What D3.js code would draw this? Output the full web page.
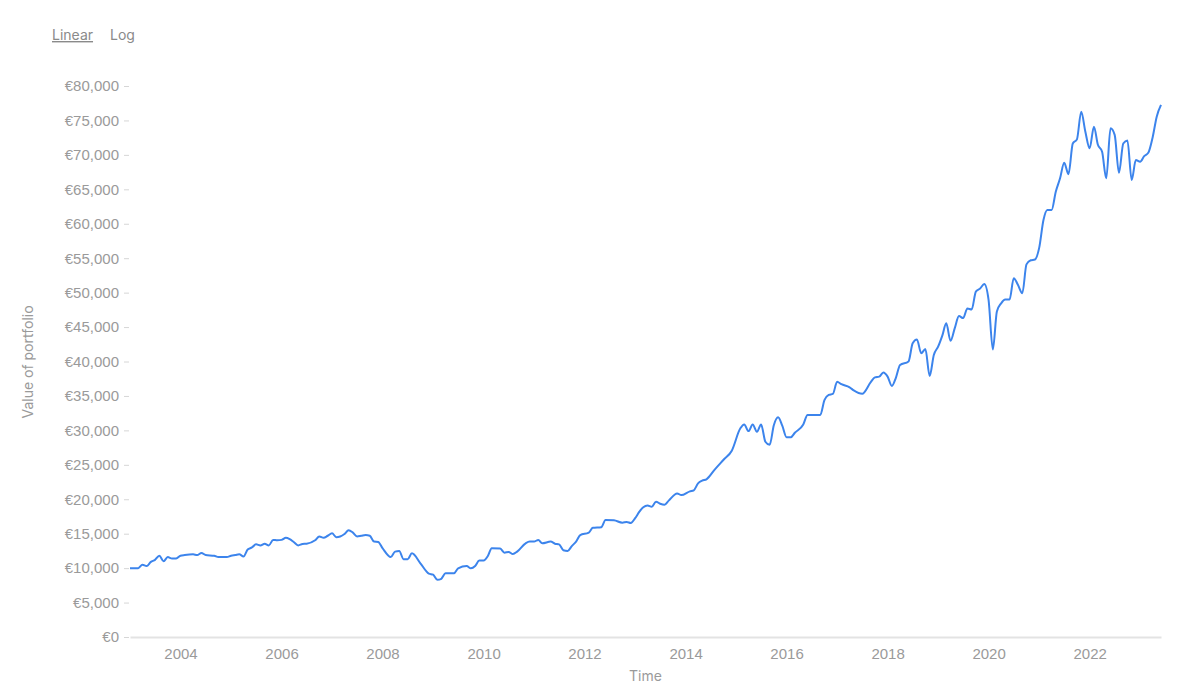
<!DOCTYPE html>
<html>
<head>
	<title>Portfolio</title>
	<meta charset='utf-8'>
	<style>
		body { margin: 0; background: #fff; }
		svg { font-family: Inter, 'Noto Sans', sans-serif; }
		.axis text { fill: #9a9a9a; font-size: 15px; }
		.axis__y .tick line { stroke: #d6d6d6; }
		.axis__y path.domain { stroke-width: 0; }
		.axis__x path.domain { stroke: #e3e3e3; stroke-width: 2px; }
		.axis__x .tick line { stroke-width: 0; }
		.label { fill: #9a9a9a; font-size: 14px; }
		.scale-btn { fill: #8a8a8a; font-size: 14px; }
		.line { fill: none; stroke: #3c84ec; stroke-width: 2px; }
	</style>
</head>
<body>
<div id="chart"></div>
<script src='https://d3js.org/d3.v7.min.js'></script>
<script>
	'use strict';

	// месяцы и значения портфеля
	const months = [
		'2003-01','2003-03','2003-04','2003-05','2003-06','2003-07','2003-08','2003-09','2003-10','2003-11','2003-12',
		'2004-01','2004-02','2004-04','2004-05','2004-06','2004-07','2004-09','2004-10','2004-12',
		'2005-01','2005-02','2005-03','2005-04','2005-05','2005-06','2005-07','2005-08','2005-09','2005-10','2005-11','2005-12',
		'2006-01','2006-02','2006-03','2006-04','2006-05','2006-06','2006-07','2006-09','2006-10','2006-11','2006-12',
		'2007-01','2007-02','2007-03','2007-04','2007-05','2007-06','2007-07','2007-08','2007-09','2007-10','2007-11','2007-12',
		'2008-01','2008-03','2008-04','2008-05','2008-06','2008-07','2008-08','2008-10','2008-12',
		'2009-01','2009-02','2009-03','2009-04','2009-05','2009-06','2009-07','2009-09','2009-10','2009-11','2009-12',
		'2010-01','2010-02','2010-03','2010-05','2010-06','2010-07','2010-08','2010-09','2010-11','2010-12',
		'2011-01','2011-02','2011-03','2011-05','2011-06','2011-07','2011-08','2011-09','2011-10','2011-11','2011-12',
		'2012-02','2012-03','2012-05','2012-06','2012-08','2012-10','2012-11','2012-12',
		'2013-01','2013-02','2013-03','2013-04','2013-05','2013-06','2013-07','2013-08','2013-09','2013-11','2013-12',
		'2014-02','2014-03','2014-04','2014-05','2014-06','2014-08','2014-10','2014-12',
		'2015-02','2015-03','2015-04','2015-05','2015-06','2015-07','2015-08','2015-09','2015-10','2015-11','2015-12',
		'2016-01','2016-02','2016-03','2016-05','2016-06','2016-08','2016-09','2016-10','2016-11','2016-12',
		'2017-01','2017-02','2017-04','2017-05','2017-07','2017-09','2017-10','2017-11','2017-12',
		'2018-01','2018-02','2018-03','2018-04','2018-06','2018-07','2018-08','2018-09','2018-10','2018-11','2018-12',
		'2019-01','2019-02','2019-03','2019-04','2019-05','2019-06','2019-07','2019-08','2019-09','2019-10','2019-11','2019-12',
		'2020-01','2020-02','2020-03','2020-04','2020-05','2020-06','2020-07','2020-08','2020-09','2020-10','2020-11','2020-12',
		'2021-01','2021-02','2021-03','2021-04','2021-05','2021-06','2021-07','2021-08','2021-09','2021-10','2021-11','2021-12',
		'2022-01','2022-02','2022-03','2022-04','2022-05','2022-06','2022-07','2022-08','2022-09','2022-10','2022-11','2022-12',
		'2023-01','2023-02','2023-03','2023-04','2023-05','2023-06'
	];
	const values = [
		10000,10000,10500,10300,10900,11200,11800,11000,11600,11400,11400,
		11800,11900,12000,11900,12200,11900,11800,11600,11600,
		11800,11900,12000,11700,12700,13000,13450,13300,13550,13300,14100,14050,
		14100,14400,14200,13750,13300,13500,13550,14050,14600,14400,14700,
		15050,14500,14600,14950,15500,15150,14600,14700,14800,14700,13850,13800,
		12900,11600,12400,12500,11300,11300,12150,10700,9200,
		9050,8300,8450,9250,9250,9250,9970,10300,9970,10300,11100,
		11100,11750,12900,12850,12250,12350,12050,12400,13600,13850,
		13850,14100,13600,13850,13550,13450,12600,12500,13200,13850,14800,
		15150,15850,15950,17000,16950,16600,16700,16550,
		17250,18200,18850,19100,18900,19650,19350,19200,19800,20850,20600,
		21150,21300,22300,22700,22900,24350,25700,27050,
		30300,30850,29900,30850,29800,30850,28350,27900,30750,31900,30700,
		29000,29000,29650,30850,32250,32250,32250,34400,35150,35300,
		37050,36700,36250,35800,35300,37000,37700,37800,38400,
		37800,36450,37600,39500,40000,42650,43200,41200,41800,37900,40950,
		42150,43800,45550,43000,44800,46600,46300,47700,47550,50150,50600,51250,
		48950,41750,47250,48450,49000,49000,52100,51100,49900,54100,54700,54800,
		56500,60550,62000,62000,64650,66600,68850,67200,71650,72250,76250,73350,
		70950,74100,71500,70450,66600,73850,72900,67400,71650,72100,66350,69250,
		69000,69850,70300,72500,75550,77250
	];
	const yTicks = [0, 5000, 10000, 15000, 20000, 25000, 30000, 35000, 40000, 45000, 50000, 55000, 60000, 65000, 70000, 75000, 80000];
	const xTickYears = [2004, 2006, 2008, 2010, 2012, 2014, 2016, 2018, 2020, 2022];
	const scaleOptions = ['Linear', 'Log'];

	const totalWidth = 1200;
	const totalHeight = 686;
	const margin = {top: 86, right: 39, bottom: 49, left: 130};
	const width = totalWidth - margin.left - margin.right;
	const height = totalHeight - margin.top - margin.bottom;

	const parseMonth = d3.timeParse('%Y-%m');
	const data = months.map((m, i) => ({date: parseMonth(m), value: values[i]}));

	const xScale = d3.scaleTime()
		.domain(d3.extent(data, d => d.date))
		.range([0, width]);
	const yScale = d3.scaleLinear()
		.domain([0, 80000])
		.range([height, 0]);

	const root = d3.select('div#chart').append('svg')
		.attr('width', totalWidth)
		.attr('height', totalHeight);

	// переключатель шкалы
	const btnX = [52, 110];
	scaleOptions.forEach((name, i) => {
		root.append('text')
			.attr('class', 'scale-btn')
			.attr('x', btnX[i])
			.attr('y', 40)
			.style('text-decoration', i === 0 ? 'underline' : 'none')
			.text(name);
	});

	const svg = root.append('g')
		.attr('transform', 'translate(' + margin.left + ',' + margin.top + ')');

	const euro = d3.format(',');
	svg.append('g')
		.attr('class', 'axis axis__y')
		.call(d3.axisLeft(yScale)
			.tickValues(yTicks)
			.tickSize(6)
			.tickPadding(5)
			.tickFormat(d => '€' + euro(d)))
		.selectAll('.tick line').attr('x2', -1).attr('x1', -6);

	svg.append('g')
		.attr('class', 'axis axis__x')
		.attr('transform', 'translate(0,' + height + ')')
		.call(d3.axisBottom(xScale)
			.tickValues(xTickYears.map(y => new Date(y, 0, 1)))
			.tickSizeOuter(0)
			.tickSize(0)
			.tickPadding(11)
			.tickFormat(d3.timeFormat('%Y')));

	// подписи осей
	svg.append('text')
		.attr('class', 'label')
		.attr('transform', 'translate(' + (28 - margin.left) + ',' + (362 - margin.top) + ') rotate(-90)')
		.attr('text-anchor', 'middle')
		.attr('dy', '0.35em')
		.text('Value of portfolio');

	svg.append('text')
		.attr('class', 'label')
		.attr('x', width / 2)
		.attr('y', height + 44)
		.attr('text-anchor', 'middle')
		.text('Time');

	const valueLine = d3.line()
		.x(d => xScale(d.date))
		.y(d => yScale(d.value))
		.curve(d3.curveMonotoneX);

	svg.append('path')
		.datum(data)
		.attr('class', 'line')
		.attr('d', valueLine);
</script>
</body>
</html>
